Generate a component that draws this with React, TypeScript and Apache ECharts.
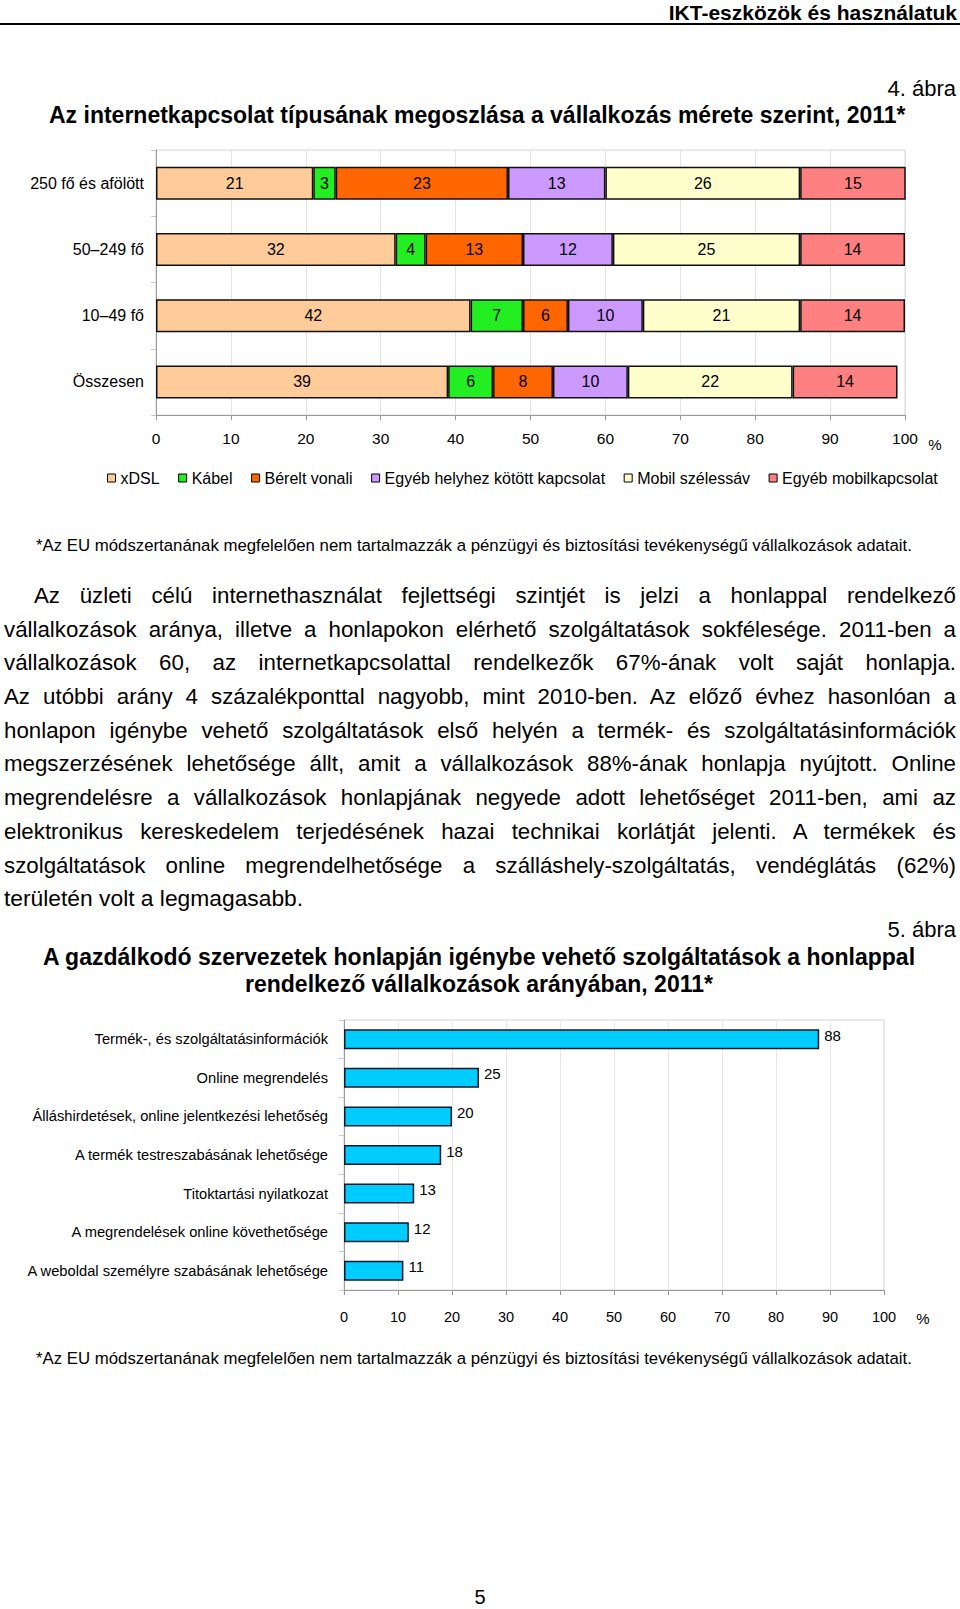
import React, { useEffect, useRef } from "react";
import * as echarts from "echarts";

const FONT = "'Liberation Sans', Arial, sans-serif";

// ---- Chart 1 data ----
const sizeCategories = ["250 fő és afölött", "50–249 fő", "10–49 fő", "Összesen"];
const connNames = [
  "xDSL",
  "Kábel",
  "Bérelt vonali",
  "Egyéb helyhez kötött kapcsolat",
  "Mobil szélessáv",
  "Egyéb mobilkapcsolat",
];
const xdslValues = [21, 32, 42, 39];
const kabelValues = [3, 4, 7, 6];
const bereltValues = [23, 13, 6, 8];
const egyebHelyValues = [13, 12, 10, 10];
const mobilValues = [26, 25, 21, 22];
const egyebMobilValues = [15, 14, 14, 14];
const connColors = ["#FFCC99", "#22EE22", "#FF6600", "#CC99FF", "#FFFFCC", "#FF8080"];
const pctTicks = [0, 100, 10]; // min, max, interval

// ---- Chart 2 data ----
const serviceCategories = [
  "Termék-, és szolgáltatásinformációk",
  "Online megrendelés",
  "Álláshirdetések, online jelentkezési lehetőség",
  "A termék testreszabásának lehetősége",
  "Titoktartási nyilatkozat",
  "A megrendelések online követhetősége",
  "A weboldal személyre szabásának lehetősége",
];
const serviceValues = [88, 25, 20, 18, 13, 12, 11];

const footnote =
  "*Az EU módszertanának megfelelően nem tartalmazzák a pénzügyi és biztosítási tevékenységű vállalkozások adatait.";

const paragraphLines = [
  "Az üzleti célú internethasználat fejlettségi szintjét is jelzi a honlappal rendelkező",
  "vállalkozások aránya, illetve a honlapokon elérhető szolgáltatások sokfélesége. 2011-ben a",
  "vállalkozások 60, az internetkapcsolattal rendelkezők 67%-ának volt saját honlapja.",
  "Az utóbbi arány 4 százalékponttal nagyobb, mint 2010-ben. Az előző évhez hasonlóan a",
  "honlapon igénybe vehető szolgáltatások első helyén a termék- és szolgáltatásinformációk",
  "megszerzésének lehetősége állt, amit a vállalkozások 88%-ának honlapja nyújtott. Online",
  "megrendelésre a vállalkozások honlapjának negyede adott lehetőséget 2011-ben, ami az",
  "elektronikus kereskedelem terjedésének hazai technikai korlátját jelenti. A termékek és",
  "szolgáltatások online megrendelhetősége a szálláshely-szolgáltatás, vendéglátás (62%)",
  "területén volt a legmagasabb.",
];

const connValues = [xdslValues, kabelValues, bereltValues, egyebHelyValues, mobilValues, egyebMobilValues];

function txt(x: number, y: number, text: string, fontSize: number, align: string, bold = false) {
  return {
    type: "text",
    x,
    y,
    silent: true,
    style: {
      text,
      fontSize,
      fontWeight: bold ? "bold" : "normal",
      fontFamily: FONT,
      fill: "#000",
      align,
      verticalAlign: "middle",
    },
  };
}

export default function App() {
  const ref = useRef<HTMLDivElement>(null);

  useEffect(() => {
    if (!ref.current) return;
    const chart = echarts.init(ref.current, null, { renderer: "svg" });

    const axisGray = "#9a9a9a";
    const option: any = {
      animation: false,
      backgroundColor: "#fff",
      textStyle: { fontFamily: FONT, color: "#000" },
      grid: [
        { left: 156, top: 150, width: 749, height: 265, show: true, borderColor: "#d4d4d4", borderWidth: 1 },
        { left: 344, top: 1020, width: 540, height: 270, show: true, borderColor: "#d4d4d4", borderWidth: 1 },
      ],
      legend: {
        data: connNames,
        left: 102,
        top: 465,
        itemWidth: 8,
        itemHeight: 8,
        itemGap: 18.5,
        icon: "rect",
        itemStyle: { borderColor: "#000", borderWidth: 1 },
        textStyle: { fontSize: 16, fontFamily: FONT, color: "#000" },
      },
      xAxis: [
        {
          gridIndex: 0,
          type: "value",
          min: pctTicks[0],
          max: pctTicks[1],
          interval: pctTicks[2],
          axisLine: { show: true, lineStyle: { color: axisGray } },
          axisTick: { show: true, length: 5, lineStyle: { color: axisGray } },
          splitLine: { show: true, lineStyle: { color: "#e4e4e4" } },
          axisLabel: { fontSize: 15.5, color: "#000", margin: 15, fontFamily: FONT },
        },
        {
          gridIndex: 1,
          type: "value",
          min: pctTicks[0],
          max: pctTicks[1],
          interval: pctTicks[2],
          axisLine: { show: true, lineStyle: { color: axisGray } },
          axisTick: { show: true, length: 5, lineStyle: { color: axisGray } },
          splitLine: { show: true, lineStyle: { color: "#e8e8e8" } },
          axisLabel: { fontSize: 14.5, color: "#000", margin: 19, fontFamily: FONT },
        },
      ],
      yAxis: [
        {
          gridIndex: 0,
          type: "category",
          data: sizeCategories,
          inverse: true,
          axisLine: { show: true, lineStyle: { color: axisGray } },
          axisTick: { show: true, length: 5, inside: false, lineStyle: { color: "#c8c8c8" } },
          axisLabel: { fontSize: 16, color: "#000", margin: 12, fontFamily: FONT },
        },
        {
          gridIndex: 1,
          type: "category",
          data: serviceCategories,
          inverse: true,
          axisLine: { show: true, lineStyle: { color: axisGray } },
          axisTick: { show: true, length: 5, lineStyle: { color: "#c8c8c8" } },
          axisLabel: { fontSize: 14.7, color: "#000", margin: 16, fontFamily: FONT },
        },
      ],
      series: [
        ...connNames.map((name, i) => ({
          name,
          type: "bar",
          stack: "conn",
          xAxisIndex: 0,
          yAxisIndex: 0,
          barWidth: 33,
          data: connValues[i],
          itemStyle: { color: connColors[i], borderColor: "#111", borderWidth: 1.5 },
          label: {
            show: true,
            position: "inside",
            fontSize: 16,
            color: "#000",
            fontFamily: FONT,
          },
        })),
        {
          name: "services",
          type: "bar",
          xAxisIndex: 1,
          yAxisIndex: 1,
          barWidth: 20,
          data: serviceValues,
          itemStyle: { color: "#00CCFF", borderColor: "#0b1a2a", borderWidth: 1.5 },
          label: {
            show: true,
            position: "right",
            distance: 5,
            offset: [0, -4],
            fontSize: 15,
            color: "#000",
            fontFamily: FONT,
          },
        },
      ],
      graphic: [
        txt(957, 12, "IKT-eszközök és használatuk", 21, "right", true),
        {
          type: "line",
          silent: true,
          shape: { x1: 0, y1: 24, x2: 960, y2: 24 },
          style: { stroke: "#000", lineWidth: 2 },
        },
        txt(956, 88, "4. ábra", 22, "right"),
        txt(49, 115, "Az internetkapcsolat típusának megoszlása a vállalkozás mérete szerint, 2011*", 23, "left", true),
        txt(935, 444, "%", 15, "center"),
        txt(36, 545, footnote, 16.8, "left"),
        txt(956, 929, "5. ábra", 22, "right"),
        txt(479, 957, "A gazdálkodó szervezetek honlapján igénybe vehető szolgáltatások a honlappal", 23, "center", true),
        txt(479, 984, "rendelkező vállalkozások arányában, 2011*", 23, "center", true),
        txt(923, 1318, "%", 15, "center"),
        txt(36, 1358, footnote, 16.8, "left"),
        txt(480, 1597, "5", 20, "center"),
      ],
    };

    chart.setOption(option);
    return () => chart.dispose();
  }, []);

  return (
    <div style={{ position: "absolute", left: 0, top: 0, width: 960, height: 1609, background: "#fff" }}>
      <div ref={ref} style={{ position: "absolute", left: 0, top: 0, width: 960, height: 1609 }} />
      <div
        style={{
          position: "absolute",
          left: 4,
          top: 579,
          width: 952,
          fontFamily: FONT,
          fontSize: 22.3,
          color: "#000",
        }}
      >
        {paragraphLines.map((line, i) => {
          const last = i === paragraphLines.length - 1;
          return (
            <div
              key={i}
              style={{
                height: 33.7,
                lineHeight: "33.7px",
                whiteSpace: "normal",
                wordSpacing: last ? "0px" : "-1.5px",
                fontSize: last ? 22.8 : 22.3,
                textAlign: "justify",
                textAlignLast: last ? "left" : "justify",
                paddingLeft: i === 0 ? 30 : 0,
              } as any}
            >
              {line}
            </div>
          );
        })}
      </div>
    </div>
  );
}
